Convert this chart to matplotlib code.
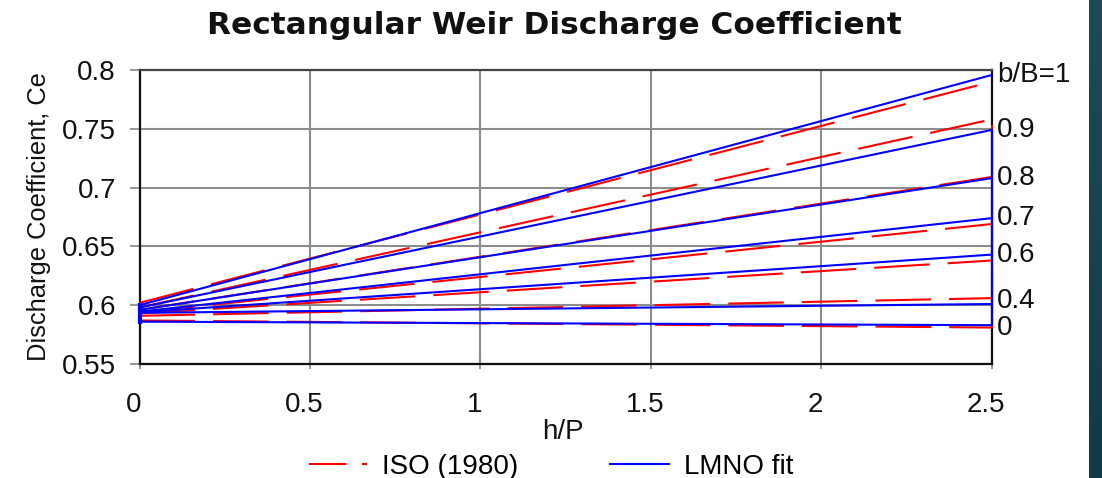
import numpy as np
import matplotlib
matplotlib.use("Agg")
import matplotlib.pyplot as plt
from matplotlib.lines import Line2D
from matplotlib.colors import LinearSegmentedColormap
from matplotlib.transforms import ScaledTranslation

plt.rcParams["font.family"] = ["Liberation Sans", "DejaVu Sans"]
plt.rcParams["lines.scale_dashes"] = False

# weir width ratio b/B of each curve, written at the right end of the lines
ratio_labels = ["b/B=1", "0.9", "0.8", "0.7", "0.6", "0.4", "0"]
# small vertical nudge (points) so the two bottom labels do not collide
label_nudge = [0, 0, 0, 0, 0, 2, -2]
hp_range = [0.0, 2.5]

# ISO (1980) discharge coefficient at h/P = 0 and h/P = 2.5
iso_start = [0.602, 0.598, 0.596, 0.594, 0.593, 0.591, 0.587]
iso_end = [0.790, 0.758, 0.709, 0.669, 0.638, 0.606, 0.581]

# LMNO fit at h/P = 0 and h/P = 2.5
lmno_start = [0.600, 0.598, 0.596, 0.5945, 0.594, 0.5935, 0.586]
lmno_end = [0.7957, 0.749, 0.708, 0.674, 0.643, 0.601, 0.583]

x_ticks = [0, 0.5, 1, 1.5, 2, 2.5]
x_ticklabels = ["0", "0.5", "1", "1.5", "2", "2.5"]
y_ticks = [0.55, 0.6, 0.65, 0.7, 0.75, 0.8]
y_ticklabels = ["0.55", "0.6", "0.65", "0.7", "0.75", "0.8"]

RED = "#ff0000"
BLUE = "#0000ff"
ISO_DASH = (0, (40, 13))

W, H = 1102, 478
fig = plt.figure(figsize=(W / 100, H / 100), dpi=100)
fig.patch.set_facecolor("white")

ax = fig.add_axes([139.5 / W, 1 - 364 / H, 852 / W, 294 / H])

# ISO curves (dashed red), with the joining stroke along the right edge
for a, b in zip(iso_start, iso_end):
    ax.plot(hp_range, [a, b], color=RED, lw=1.5, linestyle=ISO_DASH,
            zorder=3, clip_on=False)
ax.plot([hp_range[1]] * 2, [min(iso_end[1:]), max(iso_end[1:])], color=RED,
        lw=1.5, linestyle=ISO_DASH, zorder=3, clip_on=False)

# LMNO fit curves (solid blue) drawn on top
for a, b in zip(lmno_start, lmno_end):
    ax.plot(hp_range, [a, b], color=BLUE, lw=1.5, zorder=4, clip_on=False)
ax.plot([hp_range[1]] * 2, [min(lmno_end[1:]), max(lmno_end[1:])],
        color=BLUE, lw=1.5, zorder=4, clip_on=False)
ax.plot([hp_range[0]] * 2, [min(lmno_start), max(lmno_start)],
        color=BLUE, lw=3, zorder=4, clip_on=False)

for lab, yv, dy in zip(ratio_labels, lmno_end, label_nudge):
    ax.annotate(lab, xy=(hp_range[1], yv), xytext=(4, dy),
                textcoords="offset points", ha="left", va="center",
                fontsize=20, color="#111111", annotation_clip=False)

ax.set_xlim(0, 2.5)
ax.set_ylim(0.55, 0.8)
ax.set_xticks(x_ticks)
ax.set_xticklabels(x_ticklabels, fontsize=20, color="#111111")
ax.set_yticks(y_ticks)
ax.set_yticklabels(y_ticklabels, fontsize=20, color="#111111")
ax.tick_params(axis="x", direction="inout", length=7, width=1.2,
               color="#888888", pad=17)
ax.tick_params(axis="y", direction="out", length=7, width=1.2,
               color="#888888", pad=10)
shift = ScaledTranslation(-6 / 100, 0, fig.dpi_scale_trans)
for t in ax.get_xticklabels():
    t.set_transform(t.get_transform() + shift)

ax.grid(True, color="#8c8c8c", lw=1.5)
ax.set_axisbelow(True)
for side in ["left", "bottom", "right"]:
    ax.spines[side].set_color("#111111")
    ax.spines[side].set_linewidth(1.6)
ax.spines["top"].set_color("#444444")
ax.spines["top"].set_linewidth(1.6)

fig.text(554 / W, 1 - 25 / H, "Rectangular Weir Discharge Coefficient",
         ha="center", va="center", fontsize=22.5, fontweight="bold",
         family="DejaVu Sans", color="#111111")
fig.text(39 / W, 1 - 217 / H, "Discharge Coefficient, Ce", rotation=90,
         ha="center", va="center", fontsize=18.4, color="#111111")
fig.text(563 / W, 1 - 432 / H, "h/P", ha="center", va="center",
         fontsize=20, color="#111111")

handles = [
    Line2D([], [], color=RED, lw=1.5, linestyle=(0, (27, 11))),
    Line2D([], [], color=BLUE, lw=1.5),
]
fig.legend(handles, ["ISO (1980)", "LMNO fit"], loc="center",
           bbox_to_anchor=(551 / W, 1 - 467 / H), ncol=2, frameon=False,
           fontsize=20, handlelength=2.1, handletextpad=0.55,
           columnspacing=3.3, borderpad=0, borderaxespad=0)

# dark band along the right edge
band = fig.add_axes([1089 / W, 0, 1 - 1089 / W, 1])
band_cmap = LinearSegmentedColormap.from_list("band", ["#1d4b57", "#143949"])
band.imshow(np.linspace(0, 1, 64).reshape(-1, 1), cmap=band_cmap,
            aspect="auto")
band.axis("off")

fig.savefig("out.png", dpi=100)
